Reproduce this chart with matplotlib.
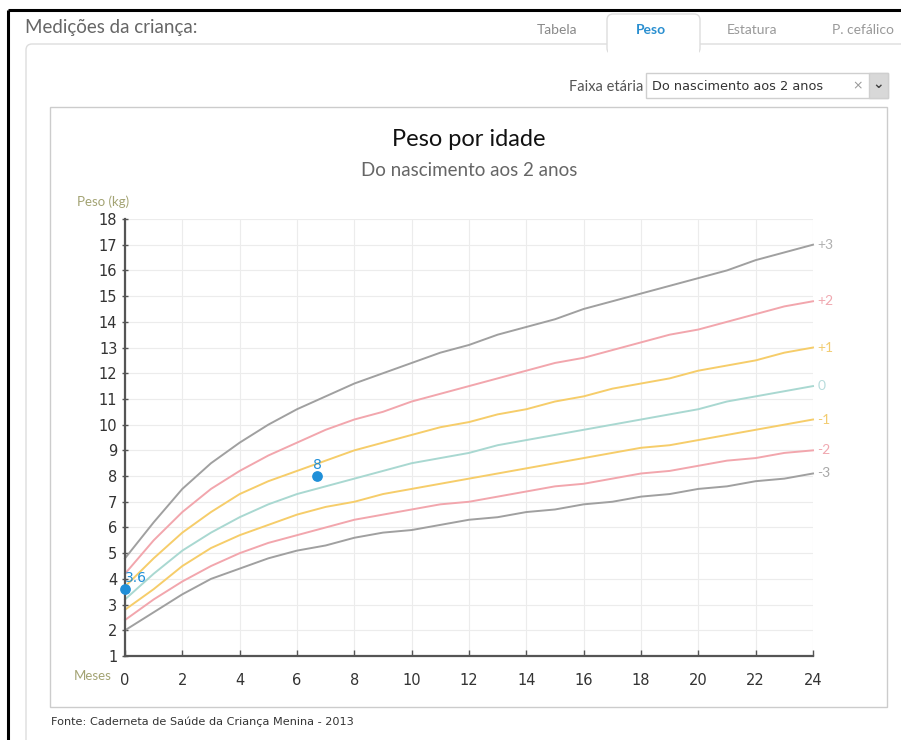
import matplotlib.pyplot as plt
from matplotlib.patches import Rectangle, FancyBboxPatch

# WHO weight-for-age, girls, 0-24 months (z-score curves)
months = list(range(25))
z_m3 = [2.0, 2.7, 3.4, 4.0, 4.4, 4.8, 5.1, 5.3, 5.6, 5.8, 5.9, 6.1, 6.3,
        6.4, 6.6, 6.7, 6.9, 7.0, 7.2, 7.3, 7.5, 7.6, 7.8, 7.9, 8.1]
z_m2 = [2.4, 3.2, 3.9, 4.5, 5.0, 5.4, 5.7, 6.0, 6.3, 6.5, 6.7, 6.9, 7.0,
        7.2, 7.4, 7.6, 7.7, 7.9, 8.1, 8.2, 8.4, 8.6, 8.7, 8.9, 9.0]
z_m1 = [2.8, 3.6, 4.5, 5.2, 5.7, 6.1, 6.5, 6.8, 7.0, 7.3, 7.5, 7.7, 7.9,
        8.1, 8.3, 8.5, 8.7, 8.9, 9.1, 9.2, 9.4, 9.6, 9.8, 10.0, 10.2]
z_0 = [3.2, 4.2, 5.1, 5.8, 6.4, 6.9, 7.3, 7.6, 7.9, 8.2, 8.5, 8.7, 8.9,
       9.2, 9.4, 9.6, 9.8, 10.0, 10.2, 10.4, 10.6, 10.9, 11.1, 11.3, 11.5]
z_p1 = [3.7, 4.8, 5.8, 6.6, 7.3, 7.8, 8.2, 8.6, 9.0, 9.3, 9.6, 9.9, 10.1,
        10.4, 10.6, 10.9, 11.1, 11.4, 11.6, 11.8, 12.1, 12.3, 12.5, 12.8, 13.0]
z_p2 = [4.2, 5.5, 6.6, 7.5, 8.2, 8.8, 9.3, 9.8, 10.2, 10.5, 10.9, 11.2, 11.5,
        11.8, 12.1, 12.4, 12.6, 12.9, 13.2, 13.5, 13.7, 14.0, 14.3, 14.6, 14.8]
z_p3 = [4.8, 6.2, 7.5, 8.5, 9.3, 10.0, 10.6, 11.1, 11.6, 12.0, 12.4, 12.8, 13.1,
        13.5, 13.8, 14.1, 14.5, 14.8, 15.1, 15.4, 15.7, 16.0, 16.4, 16.7, 17.0]

curve_labels = ['+3', '+2', '+1', '0', '-1', '-2', '-3']
curves = [z_p3, z_p2, z_p1, z_0, z_m1, z_m2, z_m3]

# child's measurements
child_age = [0, 6.7]
child_weight = [3.6, 8]
child_text = ['3.6', '8']

x_ticks = list(range(0, 25, 2))
y_ticks = list(range(1, 19))

gray = '#a0a0a0'
pink = '#f2a6ad'
yellow = '#f6cd6a'
teal = '#a9d8d1'
line_colors = [gray, pink, yellow, teal, yellow, pink, gray]
label_colors = ['#b0b0b0', '#f0a8b0', '#f2cc70', '#b8dcdc', '#f2cc70', '#f0a8b0', '#a8a8a8']
blue = '#1f8fd8'

W, H = 901, 740
fig = plt.figure(figsize=(W / 100, H / 100), dpi=100, facecolor='white')

# page / UI layer in pixel coordinates
bg = fig.add_axes([0, 0, 1, 1])
bg.set_xlim(0, W)
bg.set_ylim(H, 0)
bg.axis('off')

bg.plot([8, W], [10, 10], color='black', lw=2.2, solid_capstyle='butt')
bg.plot([8, 8], [10, H], color='black', lw=2.2, solid_capstyle='butt')

bg.text(25, 28, 'Medições da criança:', family='Lato', fontsize=13.5,
        color='#666666', va='center', ha='left')

# outer panel
bg.add_patch(FancyBboxPatch((26, 44), 1000, 800, boxstyle='round,pad=0,rounding_size=6',
                            fc='white', ec='#dddddd', lw=1))
# active tab, open at the bottom
bg.add_patch(FancyBboxPatch((607, 14), 93, 40, boxstyle='round,pad=0,rounding_size=6',
                            fc='white', ec='#dddddd', lw=1))
bg.add_patch(Rectangle((608, 40), 91, 16, fc='white', ec='none'))
for name, cx, col in [('Tabela', 557, '#888888'), ('Peso', 651, '#2a8fd0'),
                      ('Estatura', 752, '#999999'), ('P. cefálico', 863, '#999999')]:
    bg.text(cx, 30, name, family='Lato', fontsize=10, color=col,
            ha='center', va='center', weight='bold' if name == 'Peso' else 'normal')

# age range selector
bg.text(643, 87, 'Faixa etária', family='Lato', fontsize=10.5, color='#555555',
        ha='right', va='center')
bg.add_patch(Rectangle((646, 73), 242, 25, fc='white', ec='#cfcfcf', lw=1))
bg.add_patch(Rectangle((869, 73), 19, 25, fc='#d8d8d8', ec='#cfcfcf', lw=1))
bg.text(652, 86, 'Do nascimento aos 2 anos', family='DejaVu Sans', fontsize=9.3,
        color='#333333', ha='left', va='center')
bg.text(858, 86, '×', family='DejaVu Sans', fontsize=9, color='#999999',
        ha='center', va='center')
bg.text(878, 84, '⌄', family='DejaVu Sans', fontsize=10, color='#444444',
        ha='center', va='center', weight='bold')

# chart box
bg.add_patch(Rectangle((50, 107), 837, 600, fc='white', ec='#cccccc', lw=1))
bg.text(469, 140, 'Peso por idade', family='Lato', fontsize=17,
        color='#111111', ha='center', va='center')
bg.text(469, 170, 'Do nascimento aos 2 anos', family='Lato', fontsize=13.5,
        color='#666666', ha='center', va='center')
bg.text(77, 202, 'Peso (kg)', family='Lato', fontsize=9.5, color='#a3a373',
        ha='left', va='center')
bg.text(112, 676, 'Meses', family='Lato', fontsize=9.5, color='#a3a373',
        ha='right', va='center')
bg.text(51, 722, 'Fonte: Caderneta de Saúde da Criança Menina - 2013',
        family='DejaVu Sans', fontsize=8.1, color='#333333', ha='left', va='center')

# chart axes
x0, x1 = 125, 813
y0, y1 = 656, 219
ax = fig.add_axes([x0 / W, 1 - y0 / H, (x1 - x0) / W, (y0 - y1) / H])
ax.set_facecolor('none')
ax.set_xlim(0, 24)
ax.set_ylim(1, 18)
ax.set_xticks(x_ticks)
ax.set_yticks(y_ticks)
ax.grid(True, color='#ececec', lw=0.8)
ax.set_axisbelow(True)
for s in ['top', 'right']:
    ax.spines[s].set_visible(False)
for s in ['left', 'bottom']:
    ax.spines[s].set_color('#555555')
    ax.spines[s].set_linewidth(1.6)
ax.tick_params(axis='y', direction='inout', length=5, width=1, color='#555555',
               labelsize=10.5, labelcolor='#333333', pad=3)
ax.tick_params(axis='x', direction='in', length=4, width=1, color='#555555',
               labelsize=10.5, labelcolor='#333333', pad=12)

for lab, vals, c, lc in zip(curve_labels, curves, line_colors, label_colors):
    ax.plot(months, vals, color=c, lw=1.4, clip_on=False)
    ax.annotate(lab, (months[-1], vals[-1]), xytext=(3, 0), textcoords='offset points',
                family='Lato', fontsize=10, color=lc, va='center', ha='left',
                annotation_clip=False)

ax.scatter(child_age, child_weight, s=45, color=blue, zorder=5, clip_on=False)
for a, w, t in zip(child_age, child_weight, child_text):
    ax.annotate(t, (a, w), xytext=(0, 8), textcoords='offset points', fontsize=10,
                color=blue, ha='left' if a == 0 else 'center', va='center',
                annotation_clip=False)

fig.savefig('out.png', dpi=100, facecolor='white')
